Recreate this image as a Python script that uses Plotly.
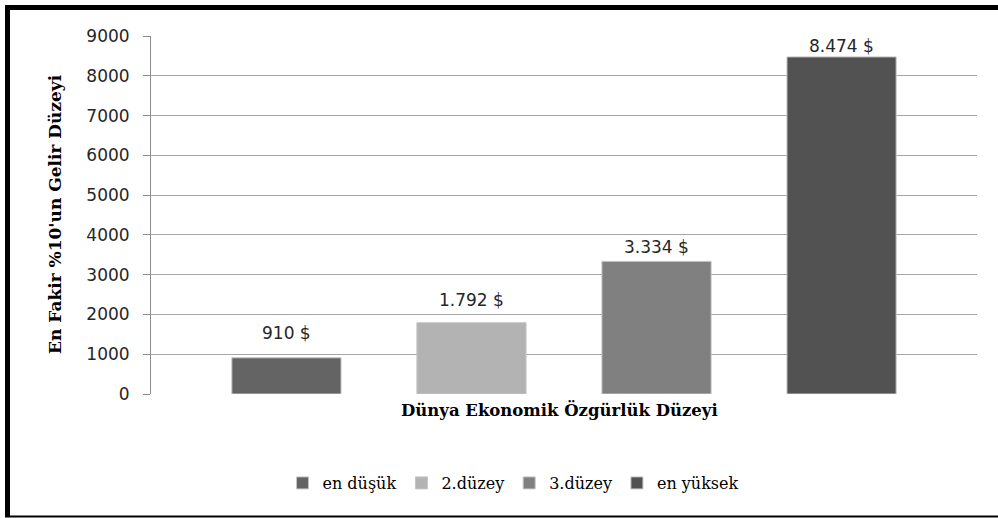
import plotly.graph_objects as go

series_names = ["en düşük", "2.düzey", "3.düzey", "en yüksek"]
values = [910, 1792, 3334, 8474]
value_labels = ["910 $", "1.792 $", "3.334 $", "8.474 $"]
colors = ["#646464", "#b3b3b3", "#808080", "#525252"]
label_shift = [13, 11, 2, -1]
y_ticks = [0, 1000, 2000, 3000, 4000, 5000, 6000, 7000, 8000, 9000]

W, H = 998, 518
ML, MR, MT, MB = 151, 21, 36, 124
PW, PH = W - ML - MR, H - MT - MB

def px_x(p):
    return (p - ML) / PW

def px_y(p):
    return (H - MB - p) / PH

fig = go.Figure()
for name, v, c in zip(series_names, values, colors):
    fig.add_trace(go.Bar(
        x=[name], y=[v], name=name,
        marker=dict(color=c, line=dict(color="#c4c4c4", width=1)),
        hoverinfo="skip",
    ))

annotations = []
for name, v, lab, s in zip(series_names, values, value_labels, label_shift):
    annotations.append(dict(
        x=name, y=v, xref="x", yref="y", text=lab, showarrow=False,
        yanchor="bottom", yshift=s,
        font=dict(family="DejaVu Sans", size=17, color="#262626"),
    ))

annotations.append(dict(
    x=px_x(55), y=px_y(214), xref="paper", yref="paper",
    text="<b>En Fakir %10'un Gelir Düzeyi</b>", textangle=-90, showarrow=False,
    xanchor="center", yanchor="middle",
    font=dict(family="DejaVu Serif", size=17, color="#000000"),
))
annotations.append(dict(
    x=px_x(559), y=px_y(410), xref="paper", yref="paper",
    text="<b>Dünya Ekonomik Özgürlük Düzeyi</b>", showarrow=False,
    xanchor="center", yanchor="middle",
    font=dict(family="DejaVu Serif", size=16.5, color="#000000"),
))

shapes = [
    dict(type="line", xref="paper", yref="paper",
         x0=px_x(7.5), x1=px_x(7.5), y0=px_y(5), y1=px_y(517),
         line=dict(color="#000000", width=5)),
    dict(type="line", xref="paper", yref="paper",
         x0=px_x(5), x1=px_x(1000), y0=px_y(7.5), y1=px_y(7.5),
         line=dict(color="#000000", width=5)),
    dict(type="line", xref="paper", yref="paper",
         x0=px_x(5), x1=px_x(1000), y0=px_y(516.5), y1=px_y(516.5),
         line=dict(color="#000000", width=2)),
]

fig.update_layout(
    width=W, height=H,
    margin=dict(l=ML, r=MR, t=MT, b=MB),
    paper_bgcolor="white", plot_bgcolor="white",
    barmode="overlay", bargap=0.41,
    showlegend=True,
    legend=dict(
        orientation="h", x=px_x(513), y=px_y(483),
        xanchor="center", yanchor="middle",
        font=dict(family="DejaVu Serif", size=16, color="#000000"),
        itemwidth=30, traceorder="normal",
    ),
    xaxis=dict(
        type="category", range=[-0.732, 3.732],
        showticklabels=False, showgrid=False, zeroline=False,
        showline=False, ticks="",
    ),
    yaxis=dict(
        range=[0, 9000], tickvals=y_ticks,
        showgrid=True, gridcolor="#a6a6a6", gridwidth=1,
        zeroline=False,
        showline=True, linecolor="#8c8c8c", linewidth=1,
        ticks="outside", ticklen=7, tickcolor="#8c8c8c",
        ticklabelstandoff=10,
        tickfont=dict(family="DejaVu Sans", size=17, color="#262626"),
    ),
    annotations=annotations,
    shapes=shapes,
)

fig.write_html("out.html", config={"displayModeBar": False},
               post_script="document.body.style.margin='0';")
